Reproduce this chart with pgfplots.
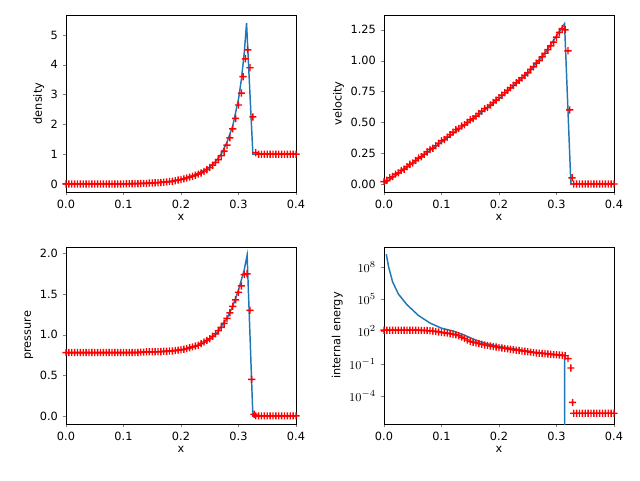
\documentclass[border=0pt]{standalone}
\usepackage{pgfplots}
\pgfplotsset{compat=1.18}
\usepackage{fontspec}
\setmainfont{DejaVu Sans}
\definecolor{mplblue}{HTML}{1F77B4}
\pgfdeclareplotmark{rplus}{%
 \color{red}\pgfsetcolor{red}\pgfsetlinewidth{1pt}%
 \pgfpathrectangle{\pgfqpoint{-\pgfplotmarksize}{-0.55pt}}{\pgfqpoint{2\pgfplotmarksize}{1.1pt}}%
 \pgfpathrectangle{\pgfqpoint{-0.55pt}{-\pgfplotmarksize}}{\pgfqpoint{1.1pt}{2\pgfplotmarksize}}%
 \pgfusepathqfill}
\pgfplotsset{every axis/.append style={scale only axis,width=172.5pt,height=132.75pt,
 font=\fontsize{8.5}{10}\selectfont, xmin=0,xmax=0.4, xtick={0,0.1,...,0.4},
 xticklabel style={/pgf/number format/.cd,fixed,fixed zerofill,precision=1,assume math mode=true},
 xlabel={x}, tick align=outside, tick pos=left, major tick length=2.6pt,
 xlabel style={yshift=3pt}, ylabel style={yshift=-2pt}},
 line/.style={draw=mplblue, line width=1.1pt, no marks},
 mk/.style={only marks, red, fill=red, mark=rplus, mark size=2.7pt}}
\begin{document}
\begin{tikzpicture}
\path (0,0) rectangle (480pt,360pt);
% density
\begin{axis}[at={(49.5pt,216pt)},anchor=south west,ymin=-0.27,ymax=5.67,ytick={0,1,2,3,4,5},ylabel={density},
 /pgf/number format/assume math mode=true]
\addplot[mk] coordinates {(0,0)(0.005,0)(0.01,0)(0.015,0)(0.02,0)(0.025,0)(0.03,0)(0.035,0)(0.04,0)(0.045,0)(0.05,0)(0.055,0)(0.06,0)(0.065,0)(0.07,0)(0.075,0)(0.08,0)(0.085,0)(0.09,0)(0.095,0)(0.1,0)(0.105,0.005)(0.11,0.005)(0.115,0.01)(0.12,0.01)(0.125,0.01)(0.13,0.015)(0.135,0.02)(0.14,0.02)(0.145,0.03)(0.15,0.03)(0.155,0.04)(0.16,0.04)(0.165,0.05)(0.17,0.06)(0.175,0.07)(0.18,0.08)(0.185,0.09)(0.19,0.11)(0.195,0.13)(0.2,0.15)(0.205,0.17)(0.21,0.2)(0.215,0.23)(0.22,0.26)(0.225,0.29)(0.23,0.33)(0.235,0.37)(0.24,0.42)(0.245,0.48)(0.25,0.55)(0.255,0.63)(0.26,0.72)(0.265,0.82)(0.27,0.95)(0.275,1.1)(0.28,1.3)(0.285,1.55)(0.29,1.85)(0.295,2.2)(0.3,2.65)(0.305,3.05)(0.308,3.6)(0.312,4.2)(0.316,4.5)(0.32,3.9)(0.325,2.25)(0.33,1.05)(0.335,1)(0.34,1)(0.345,1)(0.35,1)(0.355,1)(0.36,1)(0.365,1)(0.37,1)(0.375,1)(0.38,1)(0.385,1)(0.39,1)(0.395,1)(0.4,1)};
\addplot[line] coordinates {(0,0)(0.1,0.003)(0.15,0.03)(0.18,0.08)(0.2,0.15)(0.22,0.27)(0.24,0.45)(0.25,0.57)(0.26,0.75)(0.27,1.0)(0.28,1.4)(0.29,1.95)(0.3,2.85)(0.305,3.5)(0.31,4.4)(0.314,5.4)(0.325,1.0)(0.4,1.0)};
\end{axis}
% velocity
\begin{axis}[at={(288pt,216pt)},anchor=south west,ymin=-0.065,ymax=1.37,ytick={0,0.25,...,1.25},ylabel={velocity},
 yticklabel style={/pgf/number format/.cd,fixed,fixed zerofill,precision=2},
 /pgf/number format/assume math mode=true]
\addplot[mk] coordinates {(0,0.02)(0.005,0.03)(0.01,0.05)(0.015,0.06)(0.02,0.08)(0.025,0.09)(0.03,0.11)(0.035,0.12)(0.04,0.14)(0.045,0.16)(0.05,0.17)(0.055,0.19)(0.06,0.21)(0.065,0.22)(0.07,0.24)(0.075,0.26)(0.08,0.28)(0.085,0.29)(0.09,0.31)(0.095,0.33)(0.1,0.35)(0.105,0.36)(0.11,0.38)(0.115,0.4)(0.12,0.42)(0.125,0.44)(0.13,0.45)(0.135,0.47)(0.14,0.48)(0.145,0.5)(0.15,0.52)(0.155,0.53)(0.16,0.55)(0.165,0.57)(0.17,0.59)(0.175,0.61)(0.18,0.62)(0.185,0.64)(0.19,0.66)(0.195,0.68)(0.2,0.7)(0.205,0.72)(0.21,0.74)(0.215,0.76)(0.22,0.78)(0.225,0.8)(0.23,0.82)(0.235,0.84)(0.24,0.86)(0.245,0.88)(0.25,0.9)(0.255,0.93)(0.26,0.95)(0.265,0.98)(0.27,1.0)(0.275,1.03)(0.28,1.06)(0.285,1.09)(0.29,1.12)(0.295,1.15)(0.3,1.19)(0.305,1.23)(0.31,1.26)(0.315,1.25)(0.32,1.08)(0.323,0.6)(0.327,0.05)(0.33,0)(0.335,0)(0.34,0)(0.345,0)(0.35,0)(0.355,0)(0.36,0)(0.365,0)(0.37,0)(0.375,0)(0.38,0)(0.385,0)(0.39,0)(0.395,0)(0.4,0)};
\addplot[line] coordinates {(0,0)(0.05,0.17)(0.1,0.34)(0.15,0.51)(0.2,0.69)(0.25,0.9)(0.28,1.06)(0.3,1.2)(0.314,1.3)(0.325,0)(0.4,0)};
\end{axis}
% pressure
\begin{axis}[at={(49.5pt,42pt)},anchor=south west,ymin=-0.1,ymax=2.08,ytick={0,0.5,...,2},ylabel={pressure},
 yticklabel style={/pgf/number format/.cd,fixed,fixed zerofill,precision=1},
 /pgf/number format/assume math mode=true]
\addplot[mk] coordinates {(0,0.78)(0.005,0.78)(0.01,0.78)(0.015,0.78)(0.02,0.78)(0.025,0.78)(0.03,0.78)(0.035,0.78)(0.04,0.78)(0.045,0.78)(0.05,0.78)(0.055,0.78)(0.06,0.78)(0.065,0.78)(0.07,0.78)(0.075,0.78)(0.08,0.78)(0.085,0.78)(0.09,0.78)(0.095,0.78)(0.1,0.78)(0.105,0.78)(0.11,0.78)(0.115,0.78)(0.12,0.78)(0.125,0.78)(0.13,0.785)(0.135,0.785)(0.14,0.79)(0.145,0.79)(0.15,0.79)(0.155,0.79)(0.16,0.79)(0.165,0.79)(0.17,0.795)(0.175,0.795)(0.18,0.8)(0.185,0.8)(0.19,0.805)(0.195,0.81)(0.2,0.815)(0.205,0.82)(0.21,0.83)(0.215,0.84)(0.22,0.85)(0.225,0.86)(0.23,0.87)(0.235,0.89)(0.24,0.91)(0.245,0.93)(0.25,0.95)(0.255,0.98)(0.26,1.01)(0.265,1.05)(0.27,1.09)(0.275,1.14)(0.28,1.2)(0.285,1.27)(0.29,1.35)(0.295,1.43)(0.3,1.52)(0.305,1.6)(0.31,1.74)(0.315,1.75)(0.32,1.3)(0.323,0.45)(0.327,0.02)(0.33,0)(0.335,0)(0.34,0)(0.345,0)(0.35,0)(0.355,0)(0.36,0)(0.365,0)(0.37,0)(0.375,0)(0.38,0)(0.385,0)(0.39,0)(0.395,0)(0.4,0)};
\addplot[line] coordinates {(0,0.78)(0.1,0.78)(0.15,0.785)(0.2,0.81)(0.22,0.84)(0.24,0.9)(0.26,1.0)(0.28,1.2)(0.29,1.35)(0.3,1.55)(0.31,1.8)(0.315,1.98)(0.325,0)(0.4,0)};
\end{axis}
% internal energy
\begin{axis}[at={(288pt,42pt)},anchor=south west,ymode=log,ymin=2.5e-7,ymax=7e9,ytick={1e-4,1e-1,1e2,1e5,1e8},
 yminorticks=false,ylabel={internal energy},
 yticklabel style={font=\fontsize{9.5}{11}\selectfont}]
\addplot[mk] coordinates {(0,130)(0.005,130)(0.01,130)(0.015,130)(0.02,130)(0.025,130)(0.03,130)(0.035,130)(0.04,130)(0.045,130)(0.05,130)(0.055,130)(0.06,130)(0.065,125)(0.07,125)(0.075,120)(0.08,115)(0.085,110)(0.09,100)(0.095,90)(0.1,80)(0.105,75)(0.11,70)(0.115,62)(0.12,55)(0.125,48)(0.13,40)(0.135,30)(0.14,22)(0.145,16)(0.15,12)(0.155,10)(0.16,8.5)(0.165,7.5)(0.17,6.5)(0.175,5.5)(0.18,5)(0.185,4.5)(0.19,4)(0.195,3.6)(0.2,3.2)(0.205,2.9)(0.21,2.6)(0.215,2.4)(0.22,2.2)(0.225,2)(0.23,1.8)(0.235,1.7)(0.24,1.55)(0.245,1.45)(0.25,1.3)(0.255,1.2)(0.26,1.1)(0.265,1.0)(0.27,0.95)(0.275,0.9)(0.28,0.85)(0.285,0.8)(0.29,0.75)(0.295,0.7)(0.3,0.68)(0.305,0.64)(0.31,0.6)(0.315,0.55)(0.32,0.3)(0.325,0.04)(0.328,2.5e-5)(0.33,2.5e-6)(0.335,2.5e-6)(0.34,2.5e-6)(0.345,2.5e-6)(0.35,2.5e-6)(0.355,2.5e-6)(0.36,2.5e-6)(0.365,2.5e-6)(0.37,2.5e-6)(0.375,2.5e-6)(0.38,2.5e-6)(0.385,2.5e-6)(0.39,2.5e-6)(0.395,2.5e-6)(0.4,2.5e-6)};
\addplot[line] coordinates {(0.004,1.5e9)(0.008,1e8)(0.015,4e6)(0.025,3e5)(0.04,3e4)(0.06,3e3)(0.08,600)(0.1,200)(0.12,110)(0.14,45)(0.16,15)(0.18,7)(0.2,4)(0.22,2.8)(0.24,1.8)(0.26,1.2)(0.28,0.9)(0.3,0.7)(0.314,0.6)(0.3145,1e-10)};
\end{axis}
\end{tikzpicture}
\end{document}
